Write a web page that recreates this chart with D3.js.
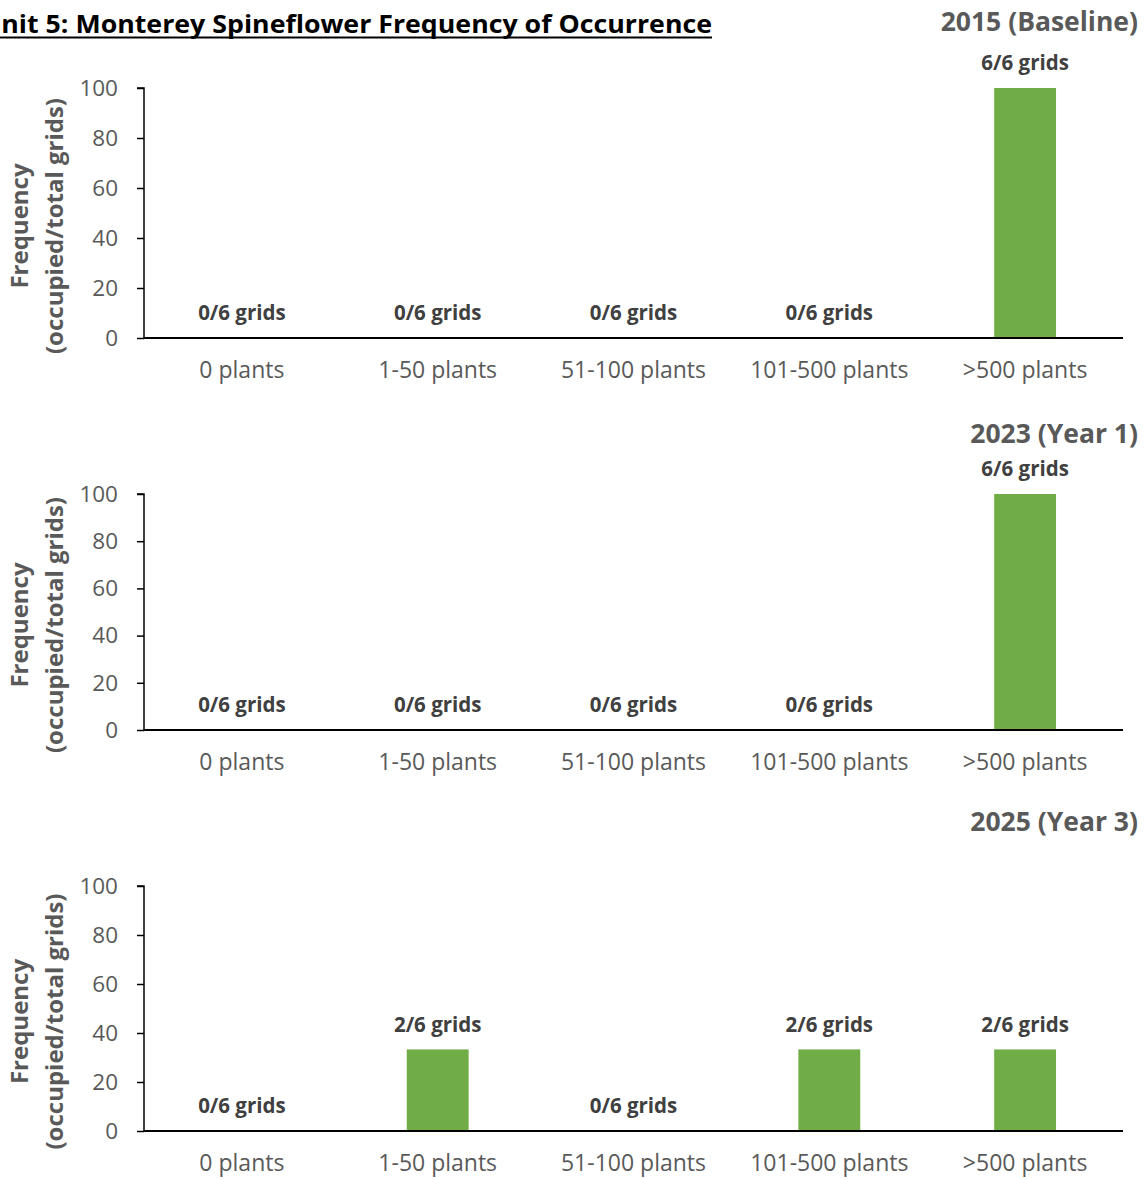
<!DOCTYPE html>
<html><head><meta charset="utf-8">
<script src="https://cdn.jsdelivr.net/npm/d3@7"></script>
<style>body{margin:0;background:#fff;} svg{display:block;}</style>
</head><body>
<script>
const categories = ["0 plants","1-50 plants","51-100 plants","101-500 plants",">500 plants"];
const panelTitles = ["2015 (Baseline)","2023 (Year 1)","2025 (Year 3)"];
const values2015 = [0,0,0,0,100];
const values2023 = [0,0,0,0,100];
const values2025 = [0,33.3,0,33.3,33.3];
const labels2015 = ["0/6 grids","0/6 grids","0/6 grids","0/6 grids","6/6 grids"];
const labels2023 = ["0/6 grids","0/6 grids","0/6 grids","0/6 grids","6/6 grids"];
const labels2025 = ["0/6 grids","2/6 grids","0/6 grids","2/6 grids","2/6 grids"];
const yTicks = [0,20,40,60,80,100];
const chartTitle = "Unit 5: Monterey Spineflower Frequency of Occurrence";
const yTitle1 = "Frequency";
const yTitle2 = "(occupied/total grids)";

const W = 1147, H = 1179;
const FONT = "'Open Sans', sans-serif";
const svg = d3.select("body").append("svg").attr("width", W).attr("height", H)
  .style("font-family", FONT);

// chart title, left part clipped by the page edge (as in the reference)
const t = svg.append("text").attr("y", 33).attr("font-size", 25).attr("font-weight", "bold")
  .attr("fill", "#000").text(chartTitle);
const tmp = svg.append("text").attr("font-size", 25).attr("font-weight", "bold").text("U");
const uw = tmp.node().getComputedTextLength(); tmp.remove();
t.attr("x", -uw).attr("textLength", 712 + uw).attr("lengthAdjust", "spacingAndGlyphs");
svg.append("line").attr("x1", 0).attr("x2", 712).attr("y1", 37.5).attr("y2", 37.5)
  .attr("stroke", "#000").attr("stroke-width", 2);

const panels = [
  {values: values2015, labels: labels2015, title: panelTitles[0], top: 88, bottom: 338, titleY: 22},
  {values: values2023, labels: labels2023, title: panelTitles[1], top: 494, bottom: 730, titleY: 434},
  {values: values2025, labels: labels2025, title: panelTitles[2], top: 886, bottom: 1131, titleY: 822}
];

const x = d3.scaleBand().domain(categories).range([144, 1123]).paddingInner(0.684).paddingOuter(0.342);

panels.forEach(p => {
  const y = d3.scaleLinear().domain([0, 100]).range([p.bottom, p.top]);
  const g = svg.append("g");

  // panel title
  g.append("text").attr("x", 1138).attr("y", p.titleY).attr("dy", "0.35em")
    .attr("text-anchor", "end").attr("font-size", 26.5).attr("font-weight", "bold")
    .attr("fill", "#595959").text(p.title);

  // y axis
  const ya = g.append("g").attr("transform", "translate(144,0)")
    .call(d3.axisLeft(y).tickValues(yTicks).tickSize(7).tickPadding(19).tickFormat(d3.format("d")));
  ya.select(".domain").attr("stroke", "#000").attr("stroke-width", 1.5).attr("d", `M-7,${p.top}H0V${p.bottom}`);
  ya.selectAll(".tick line").attr("stroke", "#000").attr("stroke-width", 1.5);
  ya.selectAll(".tick text").attr("font-size", 22.5).attr("fill", "#595959").attr("font-family", FONT);

  // bars
  g.selectAll("rect.bar").data(p.values).join("rect").attr("class", "bar")
    .attr("x", (d, i) => x(categories[i])).attr("width", x.bandwidth())
    .attr("y", d => y(d)).attr("height", d => y(0) - y(d)).attr("fill", "#70AD47");

  // x axis
  const xa = g.append("g").attr("transform", `translate(0,${p.bottom})`)
    .call(d3.axisBottom(x).tickSize(0).tickPadding(24));
  xa.select(".domain").attr("stroke", "#000").attr("stroke-width", 2).attr("d", "M144,0H1123");
  xa.selectAll(".tick text").attr("font-size", 23).attr("fill", "#595959").attr("font-family", FONT)
    .attr("dy", "0.71em");

  // data labels
  g.selectAll("text.lbl").data(p.values).join("text").attr("class", "lbl")
    .attr("x", (d, i) => x(categories[i]) + x.bandwidth() / 2)
    .attr("y", d => y(d) - 25).attr("dy", "0.35em").attr("text-anchor", "middle")
    .attr("font-size", 20.5).attr("font-weight", "bold").attr("fill", "#404040")
    .text((d, i) => p.labels[i]);

  // y axis title
  const cy = (p.top + p.bottom) / 2 + 13;
  const yt = g.append("text").attr("transform", `translate(37,${cy}) rotate(-90)`)
    .attr("text-anchor", "middle").attr("font-size", 24).attr("font-weight", "bold").attr("fill", "#595959");
  yt.append("tspan").attr("x", 0).attr("y", -17).attr("dy", "0.35em").text(yTitle1);
  yt.append("tspan").attr("x", 0).attr("y", 18).attr("dy", "0.35em").text(yTitle2);
});
</script>
</body></html>
